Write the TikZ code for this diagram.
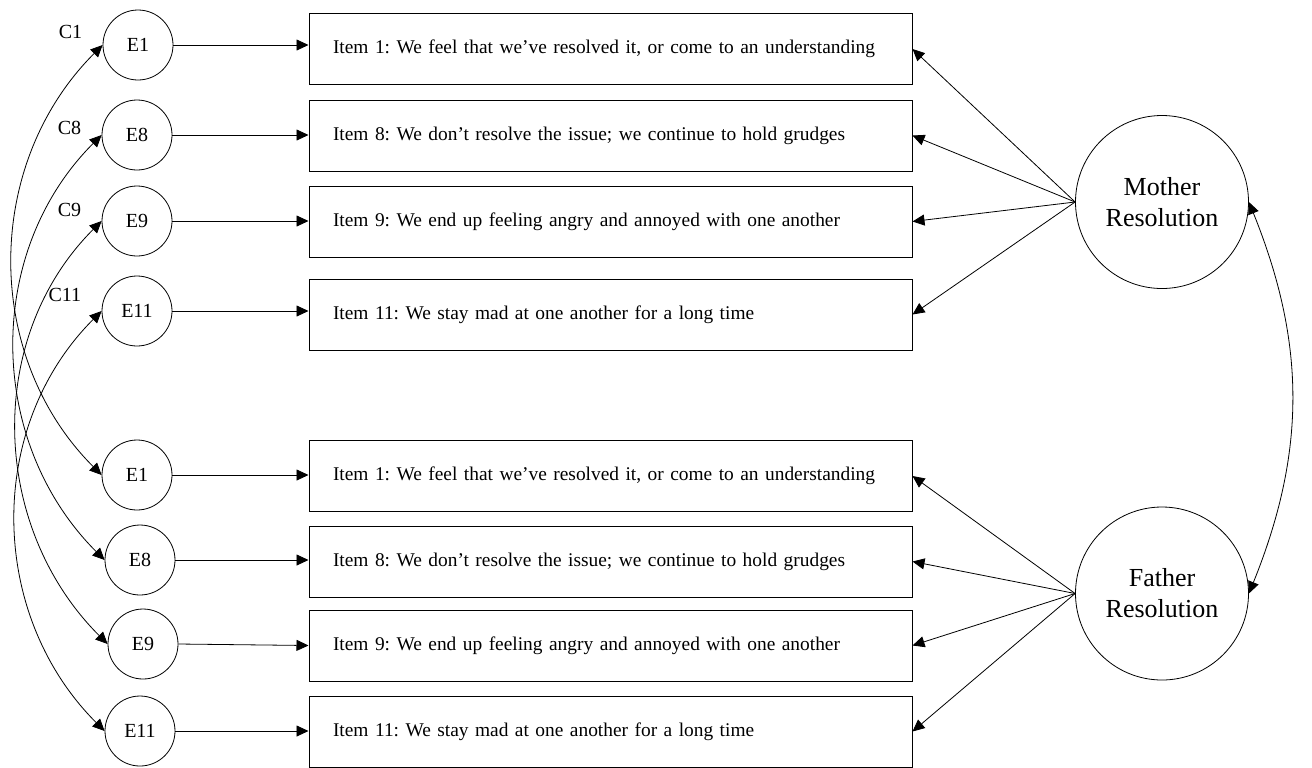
\documentclass[tikz,border=0pt]{standalone}
\usepackage{fontspec}
\setmainfont{Liberation Serif}
\usepackage{tikz}
\usetikzlibrary{positioning,arrows.meta}
\frenchspacing

\begin{document}
\begin{tikzpicture}[x=0.5pt, y=-0.5pt,
    err/.style={draw, circle, minimum size=35pt, inner sep=0pt},
    item/.style={draw, rectangle, line width=0.5pt, minimum width=301.5pt, minimum height=35.5pt, text width=277.5pt, inner xsep=12pt, align=left, font=\fontsize{9.7}{11.6}\selectfont},
    latent/.style={draw, circle, minimum size=86.5pt, inner sep=0pt, align=center, font=\fontsize{13}{15.5}\selectfont},
    cov/.style={inner sep=3pt},
    >={Triangle[length=6pt, width=5.5pt]}]
    \useasboundingbox (0,0) rectangle (1312,767);

    \node[err] (me1) at (138,45) {E1};
    \node[err] (me8) at (137,135) {E8};
    \node[err] (me9) at (137,221) {E9};
    \node[err] (me11) at (137,311) {E11};
    \node[err] (fe1) at (137,475) {E1};
    \node[err] (fe8) at (140,560) {E8};
    \node[err] (fe9) at (143,644) {E9};
    \node[err] (fe11) at (140,731) {E11};

    \node[cov, above left=0pt and 7pt of me1.west] (c1) {C1};
    \node[cov, above left=-3pt and 7pt of me8.west] (c8) {C8};
    \node[cov, above left=-1pt and 7pt of me9.west] (c9) {C9};
    \node[cov, above left=1.5pt and 7pt of me11.west] (c11) {C11};

    \node[item] (mi1) at (610.5,49) {Item 1: We feel that we’ve resolved it, or come to an understanding};
    \node[item] (mi8) at (610.5,135.5) {Item 8: We don’t resolve the issue; we continue to hold grudges};
    \node[item] (mi9) at (610.5,221.5) {Item 9: We end up feeling angry and annoyed with one another};
    \node[item] (mi11) at (610.5,314.5) {Item 11: We stay mad at one another for a long time};
    \node[item] (fi1) at (610.5,476) {Item 1: We feel that we’ve resolved it, or come to an understanding};
    \node[item] (fi8) at (610.5,561.5) {Item 8: We don’t resolve the issue; we continue to hold grudges};
    \node[item] (fi9) at (610.5,645.5) {Item 9: We end up feeling angry and annoyed with one another};
    \node[item] (fi11) at (610.5,731.5) {Item 11: We stay mad at one another for a long time};

    \node[latent] (mother) at (1162,202) {Mother\\Resolution};
    \node[latent] (father) at (1162,593.5) {Father\\Resolution};

    \draw[->] (me1.east) -- (me1.east -| mi1.west);
    \draw[->] (me8.east) -- (me8.east -| mi8.west);
    \draw[->] (me9.east) -- (me9.east -| mi9.west);
    \draw[->] (me11.east) -- (me11.east -| mi11.west);
    \draw[->] (fe1.east) -- (fe1.east -| fi1.west);
    \draw[->] (fe8.east) -- (fe8.east -| fi8.west);
    \draw[->] (fe9.east) -- (fi9.west);
    \draw[->] (fe11.east) -- (fe11.east -| fi11.west);

    \draw[->] (mother.west) -- (mi1.east);
    \draw[->] (mother.west) -- (mi8.east);
    \draw[->] (mother.west) -- (mi9.east);
    \draw[->] (mother.west) -- (mi11.east);
    \draw[->] (father.west) -- (fi1.east);
    \draw[->] (father.west) -- (fi8.east);
    \draw[->] (father.west) -- (fi9.east);
    \draw[->] (father.west) -- (fi11.east);

    \draw[<->] (me1.west) to[out=-135, in=135] (fe1.west);
    \draw[<->] (me8.west) to[out=-135, in=135] (fe8.west);
    \draw[<->] (me9.west) to[out=-135, in=135] (fe9.west);
    \draw[<->] (me11.west) to[out=-135, in=135] (fe11.west);
    \draw[<->] (mother.east) to[out=-68, in=68] (father.east);
\end{tikzpicture}
\end{document}
